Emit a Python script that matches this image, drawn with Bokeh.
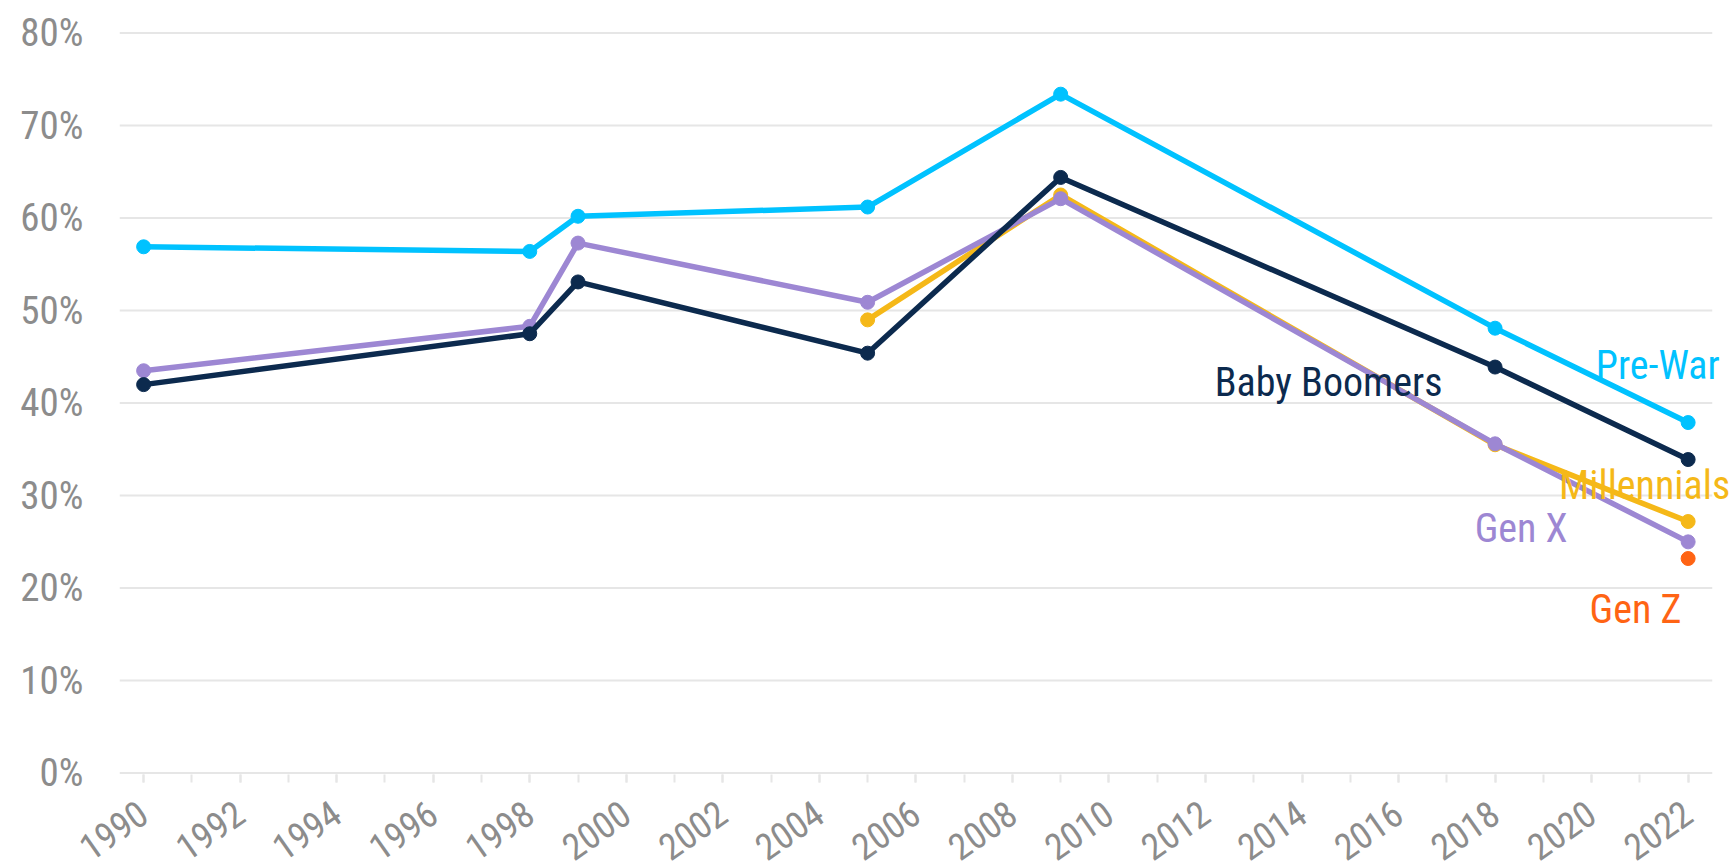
from bokeh.plotting import figure
from bokeh.models import Range1d, SingleIntervalTicker, PrintfTickFormatter, Label
from bokeh.embed import file_html
from bokeh.resources import INLINE
import math

years = [1990, 1998, 1999, 2005, 2009, 2018, 2022]
pre_war = [56.9, 56.4, 60.2, 61.2, 73.4, 48.1, 37.9]
baby_boomers = [42.0, 47.5, 53.1, 45.4, 64.4, 43.9, 33.9]
gen_x = [43.5, 48.3, 57.3, 50.9, 62.1, 35.6, 25.0]
mill_years = [2005, 2009, 2018, 2022]
millennials = [49.0, 62.5, 35.5, 27.2]
genz_years = [2022]
gen_z = [23.2]
y_ticks = [0, 10, 20, 30, 40, 50, 60, 70, 80]
x_first, x_last = 1990, 2022

C_PRE = "#00C2FF"
C_BB = "#0C2A4E"
C_GX = "#9D87D3"
C_MIL = "#F5B818"
C_GZ = "#FF6414"

FONT = "'Liberation Sans Narrow', 'Roboto Condensed', 'DejaVu Sans Condensed', sans-serif"
GREY = "#8C8C8C"
GRID = "#E6E6E6"

p = figure(output_backend="svg", toolbar_location=None,
           frame_width=1614, frame_height=746,
           x_range=Range1d(1989.5, 2022.94), y_range=Range1d(-0.15, 80.5))
p.min_border_left = 119
p.min_border_right = 1
p.min_border_top = 28
p.min_border_bottom = 94
p.outline_line_color = None
p.background_fill_color = "white"
p.border_fill_color = "white"

p.xgrid.visible = False
p.ygrid.visible = False
# horizontal gridlines limited to the axis extent
p.segment(x0=[x_first - 0.5] * len(y_ticks), x1=[x_last + 0.5] * len(y_ticks),
          y0=y_ticks, y1=y_ticks, line_color=GRID, line_width=2)

p.yaxis.ticker = SingleIntervalTicker(interval=10)
p.yaxis.formatter = PrintfTickFormatter(format="%d%%")
p.yaxis.axis_line_color = None
p.yaxis.major_tick_line_color = None
p.yaxis.minor_tick_line_color = None
p.yaxis.major_label_text_font = FONT
p.yaxis.major_label_text_font_size = "39px"
p.yaxis.major_label_text_color = GREY
p.yaxis.major_label_standoff = 30

p.xaxis.ticker = SingleIntervalTicker(interval=2, num_minor_ticks=2)
p.xaxis.axis_line_color = None
p.xaxis.major_tick_line_color = GRID
p.xaxis.minor_tick_line_color = GRID
p.xaxis.major_tick_line_width = 2
p.xaxis.minor_tick_line_width = 2
p.xaxis.major_tick_in = 0
p.xaxis.minor_tick_in = 0
p.xaxis.major_tick_out = 8
p.xaxis.minor_tick_out = 8
p.xaxis.major_label_orientation = math.radians(35)
p.xaxis.major_label_text_font = FONT
p.xaxis.major_label_text_font_size = "37px"
p.xaxis.major_label_text_color = GREY
p.xaxis.major_label_standoff = 27

series = [
    (mill_years, millennials, C_MIL),
    (years, gen_x, C_GX),
    (years, baby_boomers, C_BB),
    (years, pre_war, C_PRE),
]
for xs, ys, c in series:
    p.line(xs, ys, line_color=c, line_width=5.5)
    p.scatter(xs, ys, size=14, fill_color=c, line_color=c)
p.scatter(genz_years, gen_z, size=14, fill_color=C_GZ, line_color=C_GZ)

labels = [
    ("Pre-War", 2021.37, 44.1, C_PRE, "center"),
    ("Baby Boomers", 2014.55, 42.2, C_BB, "center"),
    ("Millennials", 2022.87, 31.1, C_MIL, "right"),
    ("Gen X", 2018.54, 26.4, C_GX, "center"),
    ("Gen Z", 2020.91, 17.7, C_GZ, "center"),
]
for txt, lx, ly, c, al in labels:
    p.add_layout(Label(x=lx, y=ly, text=txt, text_color=c, text_font=FONT,
                       text_font_size="40px", text_align=al,
                       text_baseline="alphabetic"))

open("out.html", "w").write(file_html(p, INLINE))
